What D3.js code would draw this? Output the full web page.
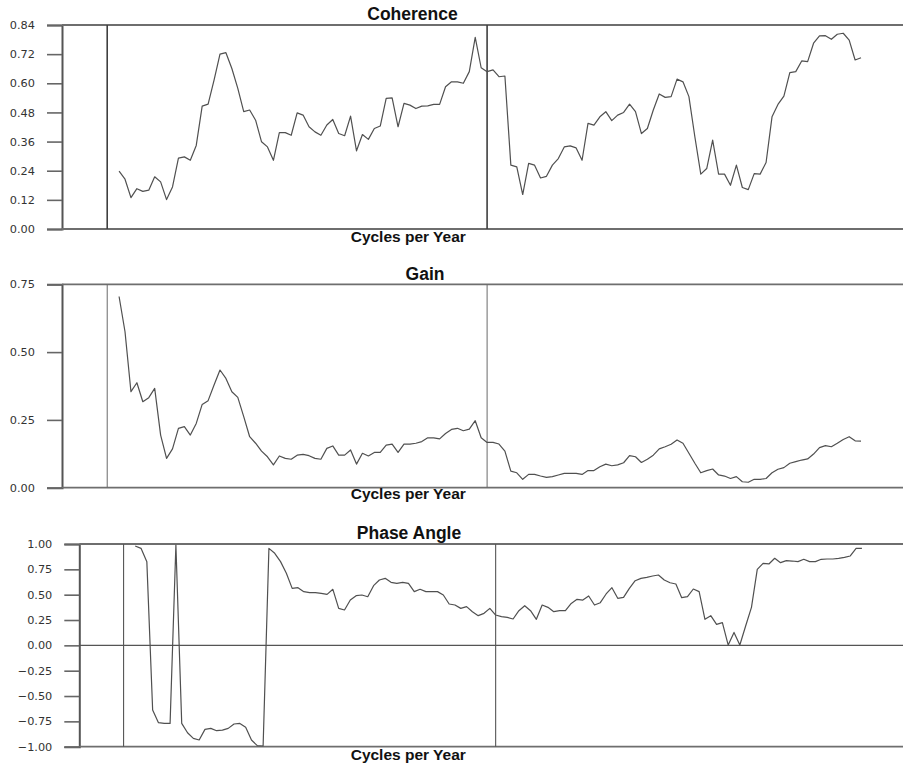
<!DOCTYPE html>
<html>
<head>
<meta charset="utf-8">
<script src="https://cdn.jsdelivr.net/npm/d3@7"></script>
<style>
  body { margin: 0; background: #fff; }
  svg { display: block; }
</style>
</head>
<body>
<svg id="chart" width="903" height="764"></svg>
<script>
// Cross-spectral estimates, one value per frequency ordinate
const coherence = [
  0.238, 0.205, 0.129, 0.166, 0.155, 0.160, 0.215, 0.194, 0.121, 0.173,
  0.292, 0.297, 0.283, 0.344, 0.506, 0.514, 0.613, 0.720, 0.726, 0.661,
  0.579, 0.483, 0.490, 0.448, 0.359, 0.338, 0.283, 0.397, 0.397, 0.386,
  0.478, 0.469, 0.421, 0.400, 0.386, 0.428, 0.451, 0.393, 0.384, 0.465,
  0.322, 0.389, 0.369, 0.414, 0.424, 0.538, 0.540, 0.421, 0.517, 0.510,
  0.496, 0.506, 0.507, 0.513, 0.513, 0.586, 0.606, 0.606, 0.600, 0.648,
  0.789, 0.664, 0.648, 0.655, 0.627, 0.630, 0.263, 0.256, 0.142, 0.270,
  0.263, 0.210, 0.217, 0.263, 0.290, 0.338, 0.342, 0.334, 0.283, 0.435,
  0.428, 0.462, 0.483, 0.446, 0.469, 0.480, 0.514, 0.483, 0.393, 0.414,
  0.490, 0.556, 0.542, 0.545, 0.617, 0.606, 0.545, 0.380, 0.226, 0.249,
  0.366, 0.226, 0.226, 0.180, 0.263, 0.171, 0.162, 0.228, 0.226, 0.274,
  0.462, 0.513, 0.547, 0.644, 0.648, 0.692, 0.689, 0.765, 0.795, 0.796,
  0.781, 0.802, 0.806, 0.778, 0.696, 0.705
];

const gain = [
  0.705, 0.575, 0.354, 0.387, 0.317, 0.332, 0.366, 0.194, 0.108, 0.143,
  0.219, 0.225, 0.194, 0.237, 0.307, 0.321, 0.379, 0.434, 0.403, 0.354,
  0.333, 0.262, 0.188, 0.164, 0.135, 0.114, 0.084, 0.117, 0.108, 0.105,
  0.120, 0.123, 0.118, 0.108, 0.105, 0.145, 0.154, 0.120, 0.120, 0.139,
  0.087, 0.127, 0.117, 0.130, 0.130, 0.157, 0.161, 0.130, 0.161, 0.161,
  0.164, 0.170, 0.184, 0.184, 0.180, 0.200, 0.215, 0.219, 0.210, 0.216,
  0.247, 0.184, 0.167, 0.167, 0.161, 0.135, 0.061, 0.055, 0.031, 0.049,
  0.049, 0.043, 0.038, 0.041, 0.047, 0.053, 0.053, 0.053, 0.049, 0.063,
  0.063, 0.077, 0.087, 0.081, 0.084, 0.092, 0.118, 0.114, 0.093, 0.105,
  0.120, 0.143, 0.151, 0.160, 0.176, 0.164, 0.127, 0.090, 0.055, 0.063,
  0.069, 0.047, 0.043, 0.034, 0.041, 0.022, 0.020, 0.031, 0.031, 0.034,
  0.055, 0.068, 0.074, 0.090, 0.096, 0.102, 0.106, 0.124, 0.148, 0.155,
  0.151, 0.164, 0.178, 0.188, 0.173, 0.172
];

const phase = [
  0.980, 0.957, 0.826, -0.638, -0.763, -0.770, -0.770, 0.990, -0.770, -0.862,
  -0.918, -0.934, -0.829, -0.819, -0.842, -0.836, -0.819, -0.776, -0.770, -0.809,
  -0.934, -0.990, -0.993, 0.957, 0.908, 0.826, 0.711, 0.562, 0.569, 0.530,
  0.520, 0.520, 0.513, 0.503, 0.553, 0.365, 0.349, 0.447, 0.490, 0.497,
  0.480, 0.589, 0.645, 0.661, 0.622, 0.612, 0.622, 0.612, 0.530, 0.553,
  0.530, 0.530, 0.530, 0.497, 0.408, 0.398, 0.365, 0.382, 0.332, 0.293,
  0.316, 0.365, 0.299, 0.283, 0.276, 0.260, 0.342, 0.391, 0.342, 0.257,
  0.398, 0.375, 0.332, 0.342, 0.342, 0.414, 0.454, 0.447, 0.487, 0.398,
  0.421, 0.507, 0.569, 0.464, 0.474, 0.562, 0.638, 0.661, 0.671, 0.684,
  0.694, 0.645, 0.618, 0.605, 0.470, 0.480, 0.556, 0.530, 0.257, 0.293,
  0.207, 0.224, 0.003, 0.128, 0.003, 0.191, 0.375, 0.750, 0.809, 0.803,
  0.859, 0.816, 0.836, 0.832, 0.826, 0.849, 0.826, 0.826, 0.849, 0.852,
  0.852, 0.859, 0.868, 0.882, 0.957, 0.957
];

const coherenceTicks = [0.00, 0.12, 0.24, 0.36, 0.48, 0.60, 0.72, 0.84];
const gainTicks = [0.00, 0.25, 0.50, 0.75];
const phaseTicks = [-1.00, -0.75, -0.50, -0.25, 0.00, 0.25, 0.50, 0.75, 1.00];
const frequencyGrid = [0, 0.5];
const frequencyDomain = [-0.0595, 1.0474];

// Fourier frequencies j/128 for j = 2..127
const frequencies = d3.range(coherence.length).map(i => (i + 2) / 128);

const panels = [
  { title: "Coherence", values: coherence, ticks: coherenceTicks, domain: [0, 0.84],
    top: 25, bottom: 229, left: 62, titleX: 412.5, titleY: 19.5, xTitleY: 241.5,
    gridStroke: "#3f3f3f", gridWidth: 1.6, zero: false },
  { title: "Gain", values: gain, ticks: gainTicks, domain: [0, 0.75],
    top: 284.3, bottom: 487.7, left: 62, titleX: 425, titleY: 279.5, xTitleY: 498.5,
    gridStroke: "#6a6a6a", gridWidth: 1, zero: false },
  { title: "Phase Angle", values: phase, ticks: phaseTicks, domain: [-1, 1],
    top: 544, bottom: 746.7, left: 79.3, titleX: 409, titleY: 539, xTitleY: 760,
    gridStroke: "#555", gridWidth: 1.1, zero: true }
];

const svg = d3.select("#chart");
const rightEdge = 903;
const fmt = d3.format(".2f");

panels.forEach(p => {
  const x = d3.scaleLinear().domain(frequencyDomain).range([p.left, rightEdge]);
  const y = d3.scaleLinear().domain(p.domain).range([p.bottom, p.top]);
  const g = svg.append("g");

  // left axis with outward ticks
  const axis = g.append("g")
    .attr("transform", `translate(${p.left},0)`)
    .call(d3.axisLeft(y).tickValues(p.ticks).tickFormat(fmt).tickSize(15).tickPadding(12));
  axis.select(".domain").attr("stroke", "#555").attr("stroke-width", 2);
  axis.selectAll(".tick line").attr("stroke", "#666").attr("stroke-width", 1.6);
  axis.selectAll(".tick text")
    .attr("fill", "#333")
    .style("font-family", "'DejaVu Sans', sans-serif")
    .style("font-size", "11.3px");

  // top and bottom frame lines
  g.selectAll("line.frame").data(p.domain).enter().append("line")
    .attr("class", "frame")
    .attr("x1", p.left).attr("x2", rightEdge)
    .attr("y1", d => y(d)).attr("y2", d => y(d))
    .attr("stroke", "#6e6e6e").attr("stroke-width", 1.8);

  if (p.zero) {
    g.append("line")
      .attr("x1", p.left).attr("x2", rightEdge)
      .attr("y1", y(0)).attr("y2", y(0))
      .attr("stroke", "#555").attr("stroke-width", 1.1);
  }

  // frequency reference lines
  g.selectAll("line.grid").data(frequencyGrid).enter().append("line")
    .attr("class", "grid")
    .attr("x1", d => x(d)).attr("x2", d => x(d))
    .attr("y1", p.top).attr("y2", p.bottom)
    .attr("stroke", p.gridStroke).attr("stroke-width", p.gridWidth);

  // estimate curve
  const line = d3.line().x((d, i) => x(frequencies[i])).y(d => y(d));
  g.append("path")
    .datum(p.values)
    .attr("d", line)
    .attr("fill", "none")
    .attr("stroke", "#505050")
    .attr("stroke-width", 1.2)
    .attr("stroke-linejoin", "round");

  g.append("text")
    .attr("x", p.titleX).attr("y", p.titleY)
    .attr("text-anchor", "middle")
    .style("font-family", "'Liberation Sans', Arial, sans-serif")
    .style("font-weight", "bold")
    .style("font-size", "17.5px")
    .attr("fill", "#111")
    .text(p.title);

  g.append("text")
    .attr("x", 408.3).attr("y", p.xTitleY)
    .attr("text-anchor", "middle")
    .style("font-family", "'Liberation Sans', Arial, sans-serif")
    .style("font-weight", "bold")
    .style("font-size", "15.5px")
    .attr("fill", "#111")
    .text("Cycles per Year");
});
</script>
</body>
</html>
